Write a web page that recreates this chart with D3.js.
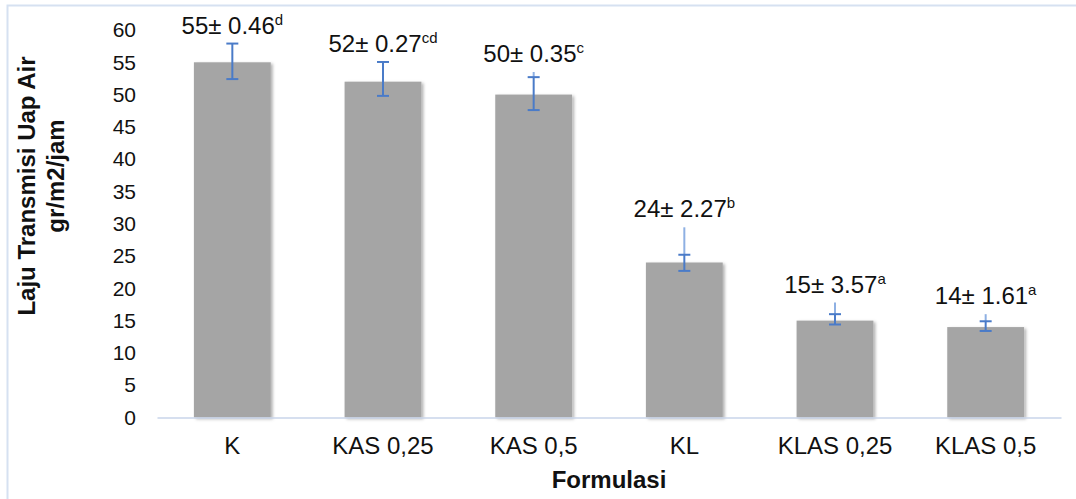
<!DOCTYPE html>
<html>
<head>
<meta charset="utf-8">
<script src="https://cdn.jsdelivr.net/npm/d3@7"></script>
<style>
  html, body { margin: 0; padding: 0; background: #fff; }
  svg { display: block; font-family: "Liberation Sans", Arial, sans-serif; }
</style>
</head>
<body>
<svg id="chart" width="1076" height="499"></svg>
<script>
// Water vapour transmission rate per formulation
const categories = ["K", "KAS 0,25", "KAS 0,5", "KL", "KLAS 0,25", "KLAS 0,5"];
const values = [55, 52, 50, 24, 15, 14];
const sdText = ["0.46", "0.27", "0.35", "2.27", "3.57", "1.61"];
const letters = ["d", "cd", "c", "b", "a", "a"];
// drawn error bar extents (lower cap, upper cap, upper whisker end)
const errLow = [52.4, 49.8, 47.6, 22.7, 14.4, 13.4];
const errHigh = [57.9, 55.05, 52.7, 25.2, 16.0, 14.9];
const whiskerTop = [57.9, 55.05, 53.5, 29.45, 17.8, 16.0];
const yTicks = [0, 5, 10, 15, 20, 25, 30, 35, 40, 45, 50, 55, 60];

const svg = d3.select("#chart");
const W = 1076, H = 499;
const plot = { left: 157, right: 1061, top: 30, bottom: 417.5 };

// outer chart border (runs off the right and bottom edges)
svg.append("rect")
  .attr("x", 7.5).attr("y", 5.5)
  .attr("width", W + 20).attr("height", H + 20)
  .attr("fill", "none").attr("stroke", "#d6e1f1").attr("stroke-width", 2);

const defs = svg.append("defs");
const f = defs.append("filter").attr("id", "barShadow")
  .attr("x", "-10%").attr("y", "-10%").attr("width", "130%").attr("height", "130%");
f.append("feDropShadow").attr("dx", 2).attr("dy", 1.5).attr("stdDeviation", 1.6)
  .attr("flood-color", "#000").attr("flood-opacity", 0.3);

const x = d3.scaleBand()
  .domain(categories)
  .range([plot.left, plot.right])
  .paddingInner(0.49)
  .paddingOuter(0.245);

const y = d3.scaleLinear().domain([0, 60]).range([plot.bottom, plot.top]);

// y axis labels (no line, no ticks)
const yAxis = svg.append("g")
  .attr("transform", `translate(${plot.left},0)`)
  .call(d3.axisLeft(y).tickValues(yTicks).tickSize(0).tickPadding(21));
yAxis.select(".domain").remove();
yAxis.selectAll("text")
  .attr("font-size", 21).attr("fill", "#111")
  .attr("font-family", "Liberation Sans, Arial, sans-serif");

// bars
const data = categories.map((c, i) => ({
  c, v: values[i], sd: sdText[i], letter: letters[i],
  lo: errLow[i], hi: errHigh[i], top: whiskerTop[i]
}));

svg.append("g").selectAll("rect").data(data).join("rect")
  .attr("x", d => x(d.c))
  .attr("y", d => y(d.v))
  .attr("width", x.bandwidth())
  .attr("height", d => y(0) - y(d.v))
  .attr("fill", "#a5a5a5")
  .attr("filter", "url(#barShadow)");

// x axis
const xAxis = svg.append("g")
  .attr("transform", `translate(0,${plot.bottom})`)
  .call(d3.axisBottom(x).tickSize(0).tickPadding(19).tickSizeOuter(0));
xAxis.select(".domain").attr("stroke", "#c8d5ea").attr("stroke-width", 1.6);
xAxis.selectAll("text")
  .attr("font-size", 24).attr("fill", "#111")
  .attr("font-family", "Liberation Sans, Arial, sans-serif");

// error bars
const eb = svg.append("g").selectAll("g").data(data).join("g")
  .attr("transform", d => `translate(${x(d.c) + x.bandwidth() / 2},0)`);
eb.filter(d => d.top > d.hi).append("line")
  .attr("x1", 0).attr("x2", 0)
  .attr("y1", d => y(d.top)).attr("y2", d => y(d.hi))
  .attr("stroke", "#8eb0e3").attr("stroke-width", 2);
eb.append("line")
  .attr("x1", 0).attr("x2", 0)
  .attr("y1", d => y(d.hi)).attr("y2", d => y(d.lo))
  .attr("stroke", "#4a7bc8").attr("stroke-width", 2);
eb.selectAll("line.cap").data(d => [d.hi, d.lo]).join("line")
  .attr("class", "cap")
  .attr("x1", -6).attr("x2", 6)
  .attr("y1", v => y(v)).attr("y2", v => y(v))
  .attr("stroke", "#4a7bc8").attr("stroke-width", 2);

// value labels with significance letters
const lbl = svg.append("g").selectAll("text").data(data).join("text")
  .attr("x", d => x(d.c) + x.bandwidth() / 2)
  .attr("y", d => y(d.top) - 10)
  .attr("text-anchor", "middle")
  .attr("font-size", 24)
  .attr("fill", "#111");
lbl.append("tspan").text(d => `${d.v}\u00b1 ${d.sd}`);
lbl.append("tspan")
  .attr("font-size", 15)
  .attr("dy", -9)
  .text(d => d.letter);

// axis titles
svg.append("text")
  .attr("x", (plot.left + plot.right) / 2)
  .attr("y", 488)
  .attr("text-anchor", "middle")
  .attr("font-size", 24).attr("font-weight", "bold").attr("fill", "#111")
  .text("Formulasi");

svg.append("text")
  .attr("transform", "translate(35,186) rotate(-90)")
  .attr("text-anchor", "middle")
  .attr("font-size", 24).attr("font-weight", "bold").attr("fill", "#111")
  .text("Laju Transmisi Uap Air");
svg.append("text")
  .attr("transform", "translate(64,176) rotate(-90)")
  .attr("text-anchor", "middle")
  .attr("font-size", 24).attr("font-weight", "bold").attr("fill", "#111")
  .text("gr/m2/jam");
</script>
</body>
</html>
